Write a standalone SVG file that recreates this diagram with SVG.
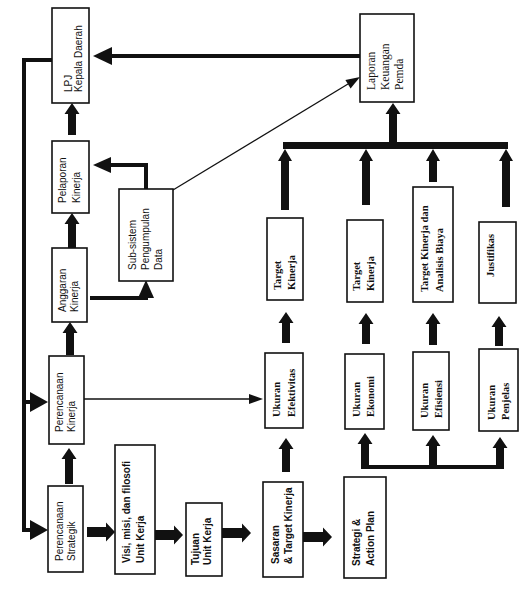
<svg xmlns="http://www.w3.org/2000/svg" width="525" height="598" viewBox="0 0 525 598">
<style>
.box{fill:#fff;stroke:#111;stroke-width:1.6}
.blk{fill:#111;stroke:none}
.ln{fill:none;stroke:#111;stroke-width:4;stroke-linejoin:miter}
.th{fill:none;stroke:#111;stroke-width:1.3}
.hd{fill:#111;stroke:none}
text{fill:#111}
.s{font-family:"Liberation Sans",Arial,sans-serif;font-size:10px}
.sb{font-family:"Liberation Sans",Arial,sans-serif;font-size:10px;font-weight:bold}
.r{font-family:"Liberation Serif","Times New Roman",serif;font-size:11.5px}
.rb{font-family:"Liberation Serif","Times New Roman",serif;font-size:10.5px;font-weight:bold}
</style>
<rect width="525" height="598" fill="#fff"/>

<g id="connectors">
  <!-- left loop -->
  <path class="ln" d="M52,60 H24 V530 H32"/>
  <path class="ln" d="M24,402 H32"/>
  <polygon class="hd" points="48,530 30,520 30,540"/>
  <polygon class="hd" points="48,402 30,392 30,412"/>
  <!-- Laporan -> LPJ -->
  <path class="ln" d="M360,56 H108"/>
  <polygon class="hd" points="93,56 112,47 112,65"/>
  <!-- Sub-sistem -> Pelaporan -->
  <path class="ln" d="M146,189 V165 H108"/>
  <polygon class="hd" points="93,165 111,157 111,173"/>
  <!-- Anggaran -> Sub-sistem -->
  <path class="ln" d="M90,298 H146 V294"/>
  <polygon class="hd" points="146,280 138,298 154,298"/>
  <!-- thin lines -->
  <path class="th" d="M84,399 H250"/>
  <polygon class="hd" points="263,399 249,394 249,404"/>
  <path class="th" d="M173,190 L348,84"/>
  <polygon class="hd" points="360,77 350.6,88.5 345.4,79.9"/>
  <!-- bus bars -->
  <rect class="blk" x="283" y="142" width="225" height="7"/>
  <path class="ln" d="M365,467 H500"/>
  <!-- vertical block arrows -->
  <polygon class="blk" points="72,103 79.5,114 76,114 76,135 68,135 68,114 64.5,114"/>
  <polygon class="blk" points="72,213 79.5,224 76,224 76,248 68,248 68,224 64.5,224"/>
  <polygon class="blk" points="70,322 77.5,333 74,333 74,355 66,355 66,333 62.5,333"/>
  <polygon class="blk" points="69,448 76.5,459 73,459 73,484 65,484 65,459 61.5,459"/>
  <polygon class="blk" points="393,103 400.5,114 397,114 397,142 389,142 389,114 385.5,114"/>
  <polygon class="blk" points="285,149 292,161 289,161 289,210 281,210 281,161 278,161"/>
  <polygon class="blk" points="366,149 373,161 370,161 370,205 362,205 362,161 359,161"/>
  <polygon class="blk" points="433,149 440,161 437,161 437,182 429,182 429,161 426,161"/>
  <polygon class="blk" points="506,149 513,161 510,161 510,207 502,207 502,161 499,161"/>
  <polygon class="blk" points="286,312 293.5,323 290,323 290,343 282,343 282,323 278.5,323"/>
  <polygon class="blk" points="366,313 373.5,324 370,324 370,344 362,344 362,324 358.5,324"/>
  <polygon class="blk" points="433,313 440.5,324 437,324 437,345 429,345 429,324 425.5,324"/>
  <polygon class="blk" points="499,316 506.5,327 503,327 503,346 495,346 495,327 491.5,327"/>
  <polygon class="blk" points="286,438 293.5,449 290,449 290,472 282,472 282,449 278.5,449"/>
  <polygon class="blk" points="365,433 372.5,444 369,444 369,469 361,469 361,444 357.5,444"/>
  <polygon class="blk" points="433,435 440.5,446 437,446 437,467 429,467 429,446 425.5,446"/>
  <polygon class="blk" points="500,437 507.5,448 504,448 504,469 496,469 496,448 492.5,448"/>
  <!-- horizontal block arrows -->
  <polygon class="blk" points="115,532 106,522.5 106,527 87,527 87,537 106,537 106,541.5"/>
  <polygon class="blk" points="183,535 174,525.5 174,530 155,530 155,540 174,540 174,544.5"/>
  <polygon class="blk" points="251,533 242,523.5 242,528 222,528 222,538 242,538 242,542.5"/>
  <polygon class="blk" points="332,537 323,527.5 323,532 303,532 303,542 323,542 323,546.5"/>
</g>

<g id="lpj">
  <rect class="box" x="52" y="8" width="37" height="95"/>
  <text class="s" transform="translate(72,92) rotate(-90)">LPJ</text>
  <text class="s" transform="translate(82,92) rotate(-90)">Kepala Daerah</text>
</g>
<g id="pelaporan">
  <rect class="box" x="52" y="141" width="37" height="72"/>
  <text class="s" transform="translate(66,203) rotate(-90)">Pelaporan</text>
  <text class="s" transform="translate(80,203) rotate(-90)">Kinerja</text>
</g>
<g id="anggaran">
  <rect class="box" x="52" y="248" width="35" height="74"/>
  <text class="s" transform="translate(66,312) rotate(-90)">Anggaran</text>
  <text class="s" transform="translate(78,312) rotate(-90)">Kinerja</text>
</g>
<g id="subsistem">
  <rect class="box" x="119" y="189" width="54" height="92"/>
  <text class="s" transform="translate(136,270) rotate(-90)">Sub-sistem</text>
  <text class="s" transform="translate(149,270) rotate(-90)">Pengumpulan</text>
  <text class="s" transform="translate(162,270) rotate(-90)">Data</text>
</g>
<g id="perencanaan-kinerja">
  <rect class="box" x="49" y="356" width="35" height="88"/>
  <text class="s" transform="translate(63,432) rotate(-90)">Perencanaan</text>
  <text class="s" transform="translate(75,432) rotate(-90)">Kinerja</text>
</g>
<g id="perencanaan-strategik">
  <rect class="box" x="48" y="486" width="35" height="86"/>
  <text class="s" transform="translate(63,561) rotate(-90)">Perencanaan</text>
  <text class="s" transform="translate(75,561) rotate(-90)">Strategik</text>
</g>
<g id="visi">
  <rect class="box" x="115" y="445" width="40" height="129"/>
  <text class="sb" transform="translate(130,563) rotate(-90)">Visi, misi, dan filosofi</text>
  <text class="sb" transform="translate(144,563) rotate(-90)">Unit Kerja</text>
</g>
<g id="tujuan">
  <rect class="box" x="186" y="503" width="36" height="73"/>
  <text class="sb" transform="translate(199,565) rotate(-90)">Tujuan</text>
  <text class="sb" transform="translate(211,565) rotate(-90)">Unit Kerja</text>
</g>
<g id="sasaran">
  <rect class="box" x="263" y="482" width="40" height="95"/>
  <text class="sb" transform="translate(279,564) rotate(-90)">Sasaran</text>
  <text class="sb" transform="translate(292,564) rotate(-90)">&amp; Target Kinerja</text>
</g>
<g id="strategi">
  <rect class="box" x="344" y="477" width="42" height="101"/>
  <text class="sb" transform="translate(360,566) rotate(-90)">Strategi &amp;</text>
  <text class="sb" transform="translate(374,566) rotate(-90)">Action Plan</text>
</g>
<g id="laporan-keuangan">
  <rect class="box" x="360" y="14" width="54" height="88"/>
  <text class="r" transform="translate(375,90) rotate(-90)">Laporan</text>
  <text class="r" transform="translate(389,90) rotate(-90)">Keuangan</text>
  <text class="r" transform="translate(403,90) rotate(-90)">Pemda</text>
</g>
<g id="target-kinerja-1">
  <rect class="box" x="267" y="218" width="36" height="82"/>
  <text class="rb" transform="translate(281,290) rotate(-90)">Target</text>
  <text class="rb" transform="translate(295,290) rotate(-90)">Kinerja</text>
</g>
<g id="target-kinerja-2">
  <rect class="box" x="347" y="220" width="36" height="82"/>
  <text class="rb" transform="translate(360,291) rotate(-90)">Target</text>
  <text class="rb" transform="translate(374,291) rotate(-90)">Kinerja</text>
</g>
<g id="target-analisis">
  <rect class="box" x="413" y="187" width="40" height="115"/>
  <text class="rb" transform="translate(428,292) rotate(-90)">Target Kinerja dan</text>
  <text class="rb" transform="translate(443,292) rotate(-90)">Analisis Biaya</text>
</g>
<g id="justifikas">
  <rect class="box" x="479" y="222" width="37" height="81"/>
  <text class="rb" transform="translate(494,277) rotate(-90)">Justifikas</text>
</g>
<g id="ukuran-efektivitas">
  <rect class="box" x="265" y="353" width="38" height="75"/>
  <text class="rb" transform="translate(280,417) rotate(-90)">Ukuran</text>
  <text class="rb" transform="translate(295,417) rotate(-90)">Efektivitas</text>
</g>
<g id="ukuran-ekonomi">
  <rect class="box" x="345" y="354" width="39" height="75"/>
  <text class="rb" transform="translate(360,417) rotate(-90)">Ukuran</text>
  <text class="rb" transform="translate(374,417) rotate(-90)">Ekonomi</text>
</g>
<g id="ukuran-efisiensi">
  <rect class="box" x="413" y="352" width="36" height="78"/>
  <text class="rb" transform="translate(428,418) rotate(-90)">Ukuran</text>
  <text class="rb" transform="translate(442,418) rotate(-90)">Efisiensi</text>
</g>
<g id="ukuran-penjelas">
  <rect class="box" x="479" y="349" width="39" height="82"/>
  <text class="rb" transform="translate(495,420) rotate(-90)">Ukuran</text>
  <text class="rb" transform="translate(509,420) rotate(-90)">Penjelas</text>
</g>
</svg>
